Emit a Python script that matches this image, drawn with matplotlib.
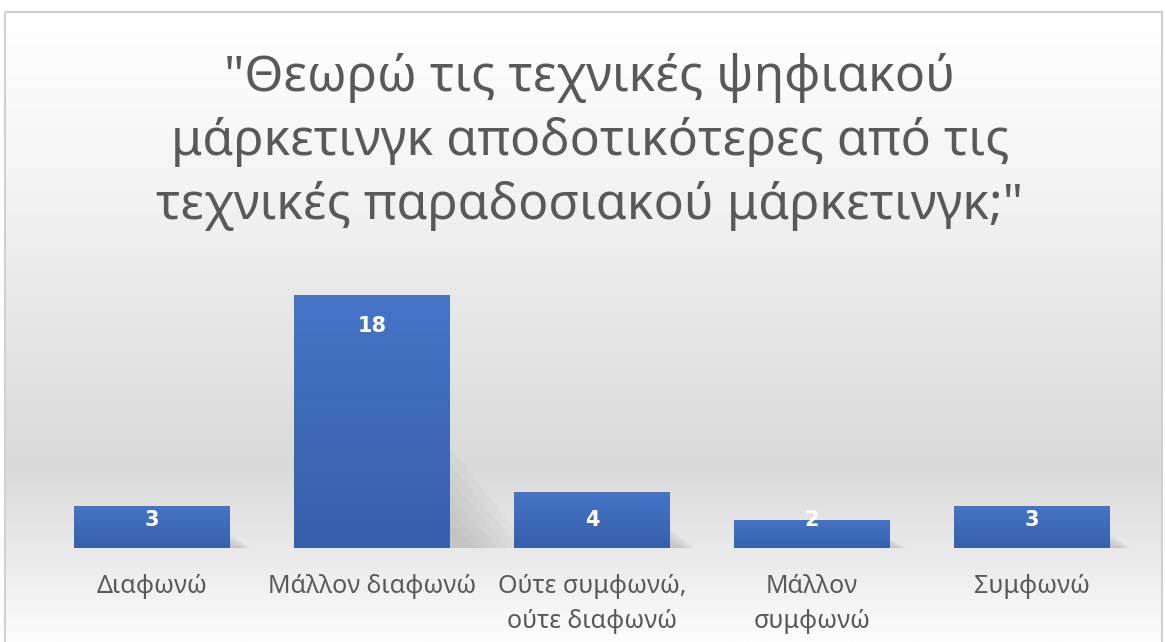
import numpy as np
import matplotlib.pyplot as plt
from matplotlib.colors import LinearSegmentedColormap
from matplotlib.patches import Rectangle, Polygon

categories = ["Διαφωνώ", "Μάλλον διαφωνώ", "Ούτε συμφωνώ,\nούτε διαφωνώ",
              "Μάλλον\nσυμφωνώ", "Συμφωνώ"]
counts = [3, 18, 4, 2, 3]
title = ('"Θεωρώ τις τεχνικές ψηφιακού\n'
         'μάρκετινγκ αποδοτικότερες από τις\n'
         'τεχνικές παραδοσιακού μάρκετινγκ;"')

plt.rcParams['font.family'] = ['Noto Sans', 'DejaVu Sans']

W, H = 1165, 642
fig = plt.figure(figsize=(W / 100, H / 100), dpi=100)

# background with soft vertical gradient and thin frame
bg = fig.add_axes([0, 0, 1, 1], zorder=0)
bg.axis("off")
bg_cmap = LinearSegmentedColormap.from_list(
    "bg", [(0, "#ffffff"), (0.25, "#f5f5f5"), (0.5, "#e6e6e6"),
           (0.72, "#dadada"), (0.88, "#ececec"), (1, "#fdfdfd")])
bg.imshow(np.linspace(0, 1, 256).reshape(-1, 1), cmap=bg_cmap,
          extent=(5, W - 3, H, 12), aspect="auto")
bg.add_patch(Rectangle((5, 12), W - 8, H, fill=False,
                       edgecolor="#d0d0d0", lw=1.5))
bg.set_xlim(0, W)
bg.set_ylim(H, 0)

ax = fig.add_axes([42 / W, 94 / H, 1100 / W, 281 / H], zorder=1)
ax.patch.set_alpha(0)
x = np.arange(len(counts))
bars = ax.bar(x, counts, width=0.705, color="#4170c0", zorder=3)

# soft perspective shadows
for rect in bars:
    xr = rect.get_x() + rect.get_width()
    h = rect.get_height()
    for k in range(6):
        s = 1 - k * 0.15
        poly = Polygon([(xr - 0.02, 0), (xr - 0.02, 0.42 * h * s),
                        (xr + 0.018 * h * s + 0.04, 0)],
                       closed=True, facecolor="#707070", alpha=0.05,
                       edgecolor="none", zorder=2)
        ax.add_patch(poly)

bar_cmap = LinearSegmentedColormap.from_list("bar", ["#3660ab", "#4674c7"])
for rect in bars:
    x0, w, h = rect.get_x(), rect.get_width(), rect.get_height()
    im = ax.imshow(np.linspace(0, 1, 100).reshape(-1, 1), cmap=bar_cmap,
                   extent=(x0, x0 + w, 0, h), aspect="auto", origin="lower",
                   zorder=3.5)
    im.set_clip_path(rect)

for xi, v in zip(x, counts):
    ax.text(xi, max(v - 2.2, 2.0), str(v), ha="center", va="center",
            color="white", fontweight="bold", fontsize=15, zorder=5,
            family="DejaVu Sans")

ax.set_xlim(-0.5, 4.5)
ax.set_ylim(0, 20)
ax.set_xticks(x, categories)
ax.tick_params(axis="x", length=0, pad=19, labelsize=18, labelcolor="#595959")
for lbl in ax.get_xticklabels():
    lbl.set_linespacing(1.5)
ax.set_yticks([])
for sp in ax.spines.values():
    sp.set_visible(False)

fig.text(590 / W, 1 - 142 / H, title, ha="center", va="center",
         fontsize=36, color="#595959", linespacing=1.38)

fig.savefig("out.png", dpi=100)
